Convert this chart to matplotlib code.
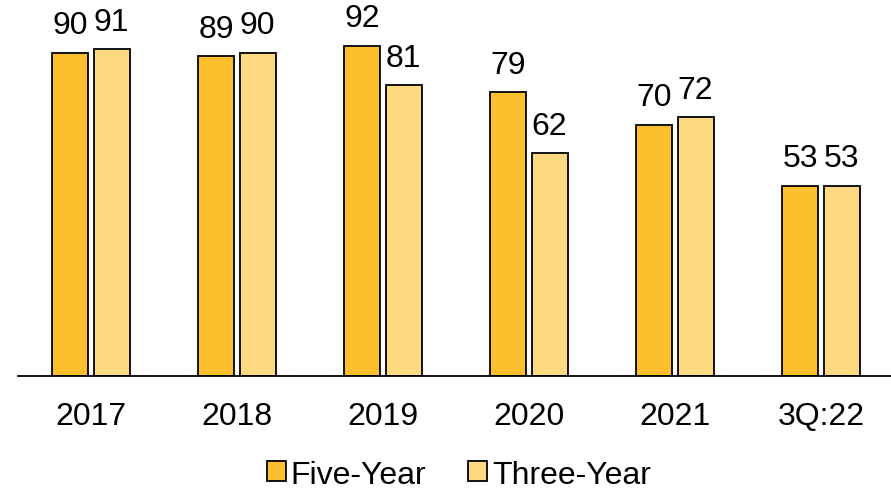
import numpy as np
import matplotlib.pyplot as plt

plt.rcParams['font.family'] = ['Liberation Sans', 'DejaVu Sans']

categories = ['2017', '2018', '2019', '2020', '2021', '3Q:22']
five_year = [90, 89, 92, 79, 70, 53]
three_year = [91, 90, 81, 62, 72, 53]

fig = plt.figure(figsize=(8.91, 4.89), dpi=100)
ax = fig.add_axes([0.02, 0.229, 0.98, 0.771])

x = np.arange(len(categories))
w = 0.246
off = 0.142
b1 = ax.bar(x - off, five_year, w, color='#FDBF2D', edgecolor='black', linewidth=1.3, label='Five-Year')
b2 = ax.bar(x + off, three_year, w, color='#FDD982', edgecolor='black', linewidth=1.3, label='Three-Year')

for bars, vals in [(b1, five_year), (b2, three_year)]:
    for r, v in zip(bars, vals):
        ax.annotate(str(v), (r.get_x() + r.get_width() / 2, v), xytext=(0, 9),
                    textcoords='offset points', ha='center', va='bottom', fontsize=23)

ax.set_xlim(-0.5, 5.48)
ax.set_ylim(0, 105)
ax.set_xticks(x)
ax.set_xticklabels(categories, fontsize=23)
ax.tick_params(axis='x', length=0, pad=18)
ax.set_yticks([])
for s in ['top', 'right', 'left']:
    ax.spines[s].set_visible(False)
ax.spines['bottom'].set_linewidth(1.3)

fig.legend(handles=[b1, b2], loc='lower center', bbox_to_anchor=(0.515, -0.062), ncol=2, frameon=False,
           fontsize=23, handlelength=0.6, handleheight=0.6, handletextpad=0.15, columnspacing=1.3)

fig.savefig('out.png', dpi=100)
